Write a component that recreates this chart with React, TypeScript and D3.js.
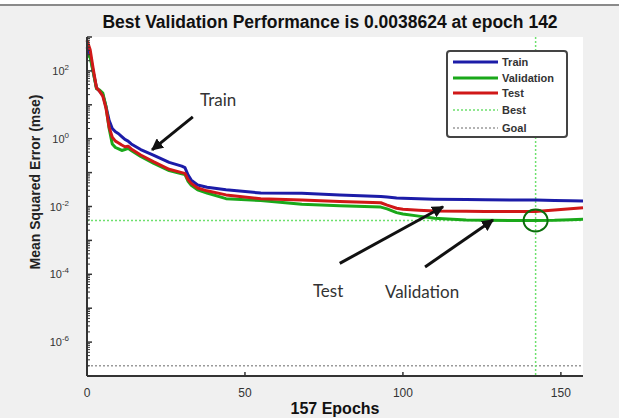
import React from 'react';
import * as d3 from 'd3';

const W = 619;
const H = 418;
const margin = { top: 37, right: 36, bottom: 42, left: 87 };
const innerW = W - margin.left - margin.right;
const innerH = H - margin.top - margin.bottom;

const epochs = [0, 1, 2, 3, 4, 5, 6, 7, 8, 9, 10, 11, 12, 13, 14, 17, 21, 26, 30, 31, 32, 33, 35, 38, 44, 55, 68, 80, 93, 95, 98, 100, 105, 110, 120, 126, 135, 142, 148, 153, 157];
const trainMse = [500, 300, 90, 32, 25, 20, 9, 3.5, 2.0, 1.6, 1.4, 1.15, 0.95, 0.85, 0.7, 0.48, 0.33, 0.2, 0.155, 0.14, 0.085, 0.06, 0.043, 0.037, 0.031, 0.025, 0.0245, 0.022, 0.0198, 0.019, 0.0178, 0.0174, 0.0168, 0.0165, 0.016, 0.0158, 0.0156, 0.0155, 0.015, 0.0148, 0.0145];
const validationMse = [300, 250, 90, 30, 27, 22, 9, 2.0, 0.7, 0.55, 0.5, 0.45, 0.48, 0.52, 0.45, 0.3, 0.19, 0.115, 0.092, 0.088, 0.055, 0.042, 0.031, 0.025, 0.017, 0.015, 0.0117, 0.0105, 0.0096, 0.0085, 0.0066, 0.006, 0.0052, 0.0045, 0.004, 0.0039, 0.00388, 0.0038624, 0.0039, 0.0041, 0.0042];
const testMse = [800, 420, 110, 32, 25, 18, 8, 2.2, 1.1, 0.85, 0.75, 0.65, 0.58, 0.6, 0.5, 0.33, 0.21, 0.125, 0.1, 0.095, 0.062, 0.048, 0.035, 0.029, 0.022, 0.017, 0.0155, 0.014, 0.0129, 0.011, 0.0089, 0.0083, 0.0078, 0.0074, 0.0072, 0.0071, 0.0071, 0.0071, 0.0079, 0.0086, 0.0092];

const bestEpoch = 142;
const bestValue = 0.0038624;
const goalValue = 2e-7;
const totalEpochs = 157;

const xTicks = [0, 50, 100, 150];
const yLabelExps = [-6, -4, -2, 0, 2];
const yMajorExps = [-7, -6, -5, -4, -3, -2, -1, 0, 1, 2, 3];

const seriesNames = ['Train', 'Validation', 'Test'];
const seriesColors = ['#1c1ca8', '#1aa81a', '#d01818'];
const seriesValues = [trainMse, validationMse, testMse];

// annotations in data coords: text position and arrow (from -> to)
const annLabels = ['Train', 'Test', 'Validation'];
const annText = [[35.8, 9.2], [71.5, 2.1e-5], [94.3, 2.0e-5]];
const annFrom = [[33.5, 4.4], [80, 2.1e-4], [107, 1.65e-4]];
const annTo = [[20.6, 0.47], [112.7, 0.0098], [128.5, 0.004]];

const legendLabels = ['Train', 'Validation', 'Test', 'Best', 'Goal'];

export default function App() {
  const x = d3.scaleLinear().domain([0, totalEpochs]).range([0, innerW]);
  const y = d3.scaleLog().domain([1e-7, 1e3]).range([innerH, 0]);

  const line = d3.line<number>()
    .x((_, i) => x(epochs[i]))
    .y((d) => y(d));

  const minorTicks: number[] = [];
  for (let e = -7; e < 3; e++) {
    for (let k = 2; k <= 9; k++) minorTicks.push(k * Math.pow(10, e));
  }

  const font = 'Liberation Sans, Arial, sans-serif';

  return (
    <svg width={W} height={H} style={{ position: 'absolute', left: 0, top: 0 }}>
      <defs>
        <marker id="ah" viewBox="0 0 10 10" refX="9" refY="5" markerWidth="4" markerHeight="4" orient="auto">
          <path d="M0,0 L10,5 L0,10 z" fill="#111" />
        </marker>
      </defs>
      <rect width={W} height={H} fill="#f0f0f0" />
      <rect width={W} height={4} fill="#fff" />
      <line x1={0} x2={W} y1={5} y2={5} stroke="#8a8a8a" strokeWidth={2} />

      <text x={330} y={28} textAnchor="middle" fontFamily={font} fontWeight="bold" fontSize={17.5} fill="#111">
        Best Validation Performance is 0.0038624 at epoch 142
      </text>

      <g transform={`translate(${margin.left},${margin.top})`}>
        <rect width={innerW} height={innerH} fill="#fff" />

        {/* goal and best */}
        <line x1={0} x2={innerW} y1={y(goalValue)} y2={y(goalValue)} stroke="#9a9a9a" strokeWidth={1.5} strokeDasharray="2,2" />
        <line x1={0} x2={innerW} y1={y(bestValue)} y2={y(bestValue)} stroke="#6ee06e" strokeWidth={1.5} strokeDasharray="2,2" />
        <line x1={x(bestEpoch)} x2={x(bestEpoch)} y1={0} y2={innerH} stroke="#6ee06e" strokeWidth={1.5} strokeDasharray="2,2" />

        {seriesValues.map((vals, i) => (
          <path key={i} d={line(vals) || ''} fill="none" stroke={seriesColors[i]} strokeWidth={3} strokeLinejoin="round" />
        ))}

        <ellipse cx={x(bestEpoch)} cy={y(bestValue)} rx={12} ry={11} fill="none" stroke="#0b6e0b" strokeWidth={2} />

        {/* axes */}
        <line x1={0} x2={innerW} y1={innerH} y2={innerH} stroke="#333" strokeWidth={2} />
        <line x1={0} x2={0} y1={0} y2={innerH} stroke="#333" strokeWidth={2} />
        {xTicks.map((t) => (
          <g key={t}>
            <line x1={x(t)} x2={x(t)} y1={innerH} y2={innerH - 4} stroke="#333" strokeWidth={1.5} />
            <text x={x(t)} y={innerH + 21} textAnchor="middle" fontFamily={font} fontSize={12} fill="#333">{t}</text>
          </g>
        ))}
        {yMajorExps.map((e) => (
          <line key={e} x1={0} x2={5} y1={y(Math.pow(10, e))} y2={y(Math.pow(10, e))} stroke="#333" strokeWidth={1.5} />
        ))}
        {minorTicks.map((v, i) => (
          <line key={i} x1={0} x2={3} y1={y(v)} y2={y(v)} stroke="#333" strokeWidth={1} />
        ))}
        {yLabelExps.map((e) => (
          <text key={e} x={-18} y={y(Math.pow(10, e)) + 4} textAnchor="end" fontFamily={font} fontSize={11} fill="#333">
            10<tspan dy={-5} fontSize={8}>{e}</tspan>
          </text>
        ))}

        {/* annotations */}
        {annLabels.map((lab, i) => (
          <g key={lab}>
            <line x1={x(annFrom[i][0])} y1={y(annFrom[i][1])} x2={x(annTo[i][0])} y2={y(annTo[i][1])}
              stroke="#111" strokeWidth={3} markerEnd="url(#ah)" />
            <text x={x(annText[i][0])} y={y(annText[i][1])} fontFamily="Lato, sans-serif" fontSize={17} fill="#333">{lab}</text>
          </g>
        ))}
      </g>

      <text transform={`translate(40,182) rotate(-90)`} textAnchor="middle" fontFamily={font} fontWeight="bold" fontSize={14} fill="#222">
        Mean Squared Error  (mse)
      </text>
      <text x={335} y={414} textAnchor="middle" fontFamily={font} fontWeight="bold" fontSize={16} fill="#111">
        157 Epochs
      </text>

      {/* legend */}
      <g transform="translate(447,51)">
        <rect width={120} height={86} rx={3} fill="#fff" stroke="#444" strokeWidth={2} />
        {legendLabels.map((lab, i) => {
          const ly = [11, 27, 42, 59, 77][i];
          const stroke = i < 3 ? seriesColors[i] : i === 3 ? '#6ee06e' : '#9a9a9a';
          return (
            <g key={lab}>
              <line x1={6} x2={51} y1={ly} y2={ly} stroke={stroke} strokeWidth={i < 3 ? 3 : 1.5} strokeDasharray={i < 3 ? undefined : '2,2'} />
              <text x={55} y={ly + 4} fontFamily={font} fontWeight="bold" fontSize={11} fill="#333">{lab}</text>
            </g>
          );
        })}
      </g>
    </svg>
  );
}
